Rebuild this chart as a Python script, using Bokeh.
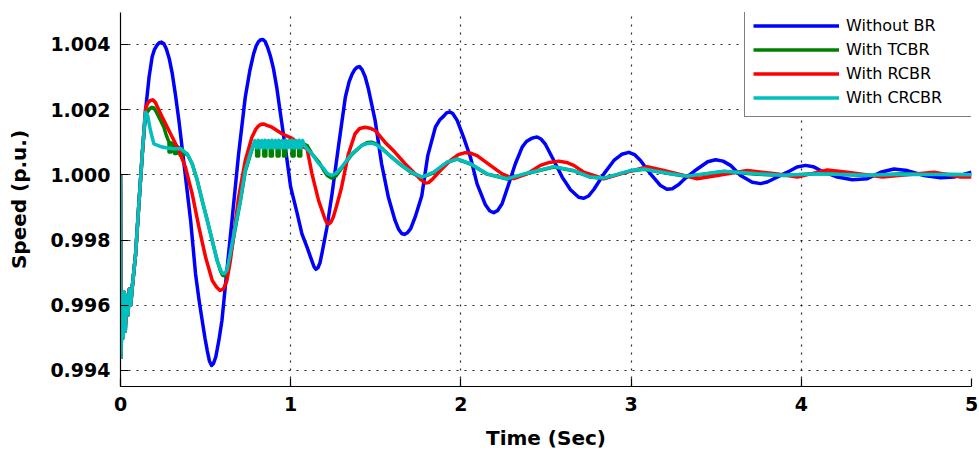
from bokeh.plotting import figure
from bokeh.models import Range1d, FixedTicker, PrintfTickFormatter
from bokeh.embed import file_html
from bokeh.resources import INLINE

# ---------------- data ----------------
x_ticks = [0, 1, 2, 3, 4, 5]
y_ticks = [0.994, 0.996, 0.998, 1.000, 1.002, 1.004]

# shared initial transient (all four cases)
t_start = [0.000, 0.003, 0.010, 0.016, 0.022, 0.028, 0.036, 0.044, 0.052, 0.060,
           0.069, 0.089, 0.108, 0.128]
v_start = [1.0000, 0.9944, 0.9962, 0.9950, 0.9964, 0.9952, 0.9963, 0.9957, 0.9965, 0.9960,
           0.99655, 0.99758, 0.99911, 1.00064]

t_without = [0.149, 0.168, 0.186, 0.200, 0.215, 0.228, 0.241, 0.255, 0.270, 0.287,
             0.304, 0.323, 0.343, 0.373, 0.412, 0.441, 0.462, 0.480, 0.497, 0.510,
             0.523, 0.535, 0.547, 0.560, 0.578, 0.596, 0.625, 0.655, 0.694, 0.733,
             0.760, 0.782, 0.797, 0.810, 0.823, 0.837, 0.851, 0.865, 0.882, 0.899,
             0.919, 0.939, 0.968, 1.000, 1.037, 1.066, 1.096, 1.125, 1.137, 1.148,
             1.160, 1.172, 1.184, 1.213, 1.243, 1.282, 1.321, 1.343, 1.360, 1.375,
             1.390, 1.405, 1.420, 1.438, 1.456, 1.496, 1.534, 1.574, 1.613, 1.635,
             1.652, 1.668, 1.685, 1.705, 1.731, 1.770, 1.805, 1.850, 1.875, 1.899,
             1.916, 1.934, 1.952, 1.978, 2.016, 2.056, 2.095, 2.144, 2.170, 2.193,
             2.215, 2.242, 2.281, 2.320, 2.360, 2.385, 2.409, 2.428, 2.448, 2.470,
             2.497, 2.546, 2.595, 2.644, 2.692, 2.722, 2.750, 2.781, 2.840, 2.899,
             2.945, 2.987, 3.020, 3.055, 3.114, 3.173, 3.210, 3.242, 3.280, 3.320,
             3.389, 3.450, 3.496, 3.540, 3.584, 3.643, 3.712, 3.761, 3.800, 3.839,
             3.918, 3.975, 4.025, 4.070, 4.113, 4.212, 4.300, 4.388, 4.466, 4.544,
             4.623, 4.721, 4.819, 4.897, 5.000]
v_without = [1.00207, 1.00300, 1.00362, 1.00385, 1.00398, 1.00405, 1.00407, 1.00402, 1.00385, 1.00355,
             1.00311, 1.00245, 1.00167, 1.00034, 0.99860, 0.99696, 0.99614, 0.99553, 0.99497, 0.99460,
             0.99428, 0.99415, 0.99422, 0.99442, 0.99492, 0.99553, 0.99706, 0.99860, 1.00064, 1.00238,
             1.00320, 1.00371, 1.00395, 1.00408, 1.00414, 1.00415, 1.00408, 1.00390, 1.00362, 1.00325,
             1.00265, 1.00190, 1.00085, 0.99962, 0.99884, 0.99819, 0.99778, 0.99735, 0.99718, 0.99710,
             0.99715, 0.99730, 0.99760, 0.99839, 0.99942, 1.00092, 1.00238, 1.00285, 1.00308, 1.00322,
             1.00330, 1.00332, 1.00322, 1.00300, 1.00265, 1.00167, 1.00034, 0.99931, 0.99860, 0.99832,
             0.99820, 0.99817, 0.99822, 0.99835, 0.99870, 0.99935, 1.00058, 1.00146, 1.00168, 1.00180,
             1.00190, 1.00193, 1.00188, 1.00167, 1.00115, 1.00054, 0.99972, 0.99908, 0.99889, 0.99884,
             0.99890, 0.99911, 0.99972, 1.00034, 1.00085, 1.00102, 1.00110, 1.00114, 1.00116, 1.00110,
             1.00093, 1.00044, 0.99993, 0.99954, 0.99931, 0.99928, 0.99935, 0.99955, 1.00003, 1.00044,
             1.00063, 1.00069, 1.00062, 1.00044, 1.00003, 0.99967, 0.99956, 0.99957, 0.99970, 0.99990,
             1.00018, 1.00040, 1.00046, 1.00042, 1.00029, 0.99998, 0.99977, 0.99973, 0.99978, 0.99988,
             1.00008, 1.00024, 1.00029, 1.00025, 1.00013, 0.99993, 0.99985, 0.99988, 1.00008, 1.00018,
             1.00013, 0.99998, 0.99991, 0.99993, 1.00008]

t_tcbr = [0.147, 0.157, 0.172, 0.185, 0.196, 0.211, 0.226, 0.255, 0.270, 0.285,
          0.285, 0.298, 0.298, 0.318, 0.318, 0.330, 0.330, 0.350, 0.350, 0.362,
          0.362, 0.373, 0.392, 0.421, 0.451, 0.480, 0.510, 0.539, 0.568, 0.588,
          0.600, 0.612, 0.625, 0.645, 0.674, 0.704, 0.733, 0.762, 0.780, 0.800,
          0.800, 0.812, 0.812, 0.842, 0.842, 0.854, 0.854, 0.880, 0.880, 0.892,
          0.892, 0.920, 0.920, 0.932, 0.932, 0.958, 0.958, 0.970, 0.970, 1.008,
          1.008, 1.020, 1.020, 1.047, 1.047, 1.059, 1.059, 1.096, 1.125, 1.164,
          1.193, 1.215, 1.240, 1.265, 1.299, 1.358, 1.417, 1.450, 1.476, 1.505,
          1.534, 1.593, 1.652, 1.711, 1.770, 1.840, 1.919, 1.978, 2.056, 2.154,
          2.271, 2.389, 2.546, 2.663, 2.761, 2.840, 2.996, 3.075, 3.232, 3.330,
          3.545, 3.741, 3.900, 4.100, 4.400, 4.600, 5.000]
v_tcbr = [1.00187, 1.00192, 1.00203, 1.00207, 1.00205, 1.00192, 1.00177, 1.00146, 1.00120, 1.00100,
          1.00070, 1.00070, 1.00098, 1.00090, 1.00065, 1.00065, 1.00088, 1.00080, 1.00060, 1.00060,
          1.00080, 1.00064, 1.00064, 1.00034, 0.99983, 0.99921, 0.99860, 0.99798, 0.99737, 0.99705,
          0.99692, 0.99690, 0.99700, 0.99750, 0.99835, 0.99918, 1.00010, 1.00060, 1.00090, 1.00100,
          1.00058, 1.00058, 1.00100, 1.00100, 1.00058, 1.00058, 1.00100, 1.00100, 1.00058, 1.00058,
          1.00100, 1.00100, 1.00058, 1.00058, 1.00100, 1.00100, 1.00058, 1.00058, 1.00100, 1.00100,
          1.00058, 1.00058, 1.00100, 1.00100, 1.00058, 1.00058, 1.00100, 1.00090, 1.00064, 1.00040,
          1.00015, 0.99998, 0.99990, 0.99996, 1.00020, 1.00062, 1.00090, 1.00099, 1.00100, 1.00094,
          1.00082, 1.00054, 1.00028, 1.00006, 0.99992, 1.00006, 1.00038, 1.00048, 1.00033, 1.00002,
          0.99987, 1.00004, 1.00024, 1.00012, 0.99993, 0.99989, 1.00012, 1.00017, 1.00003, 0.99995,
          1.00010, 1.00002, 0.99998, 1.00004, 0.99998, 1.00003, 1.00000]

t_rcbr = [0.147, 0.160, 0.175, 0.190, 0.205, 0.220, 0.245, 0.294, 0.343, 0.382,
          0.421, 0.461, 0.500, 0.539, 0.565, 0.585, 0.605, 0.625, 0.645, 0.664,
          0.694, 0.733, 0.772, 0.795, 0.811, 0.826, 0.841, 0.860, 0.890, 0.949,
          1.008, 1.066, 1.096, 1.125, 1.164, 1.203, 1.213, 1.223, 1.235, 1.250,
          1.270, 1.299, 1.339, 1.378, 1.405, 1.437, 1.466, 1.496, 1.554, 1.613,
          1.672, 1.731, 1.765, 1.790, 1.810, 1.830, 1.879, 1.938, 1.985, 2.026,
          2.060, 2.095, 2.173, 2.242, 2.310, 2.389, 2.467, 2.520, 2.575, 2.620,
          2.663, 2.722, 2.840, 2.938, 3.095, 3.192, 3.389, 3.506, 3.683, 3.850,
          3.977, 4.153, 4.271, 4.477, 4.780, 4.936, 5.000]
v_rcbr = [1.00202, 1.00220, 1.00228, 1.00230, 1.00222, 1.00205, 1.00177, 1.00126, 1.00075, 1.00023,
          0.99942, 0.99839, 0.99747, 0.99676, 0.99655, 0.99645, 0.99650, 0.99675, 0.99735, 0.99809,
          0.99931, 1.00044, 1.00115, 1.00140, 1.00150, 1.00155, 1.00156, 1.00152, 1.00146, 1.00126,
          1.00112, 1.00088, 1.00080, 1.00003, 0.99921, 0.99862, 0.99852, 0.99849, 0.99854, 0.99870,
          0.99905, 0.99962, 1.00064, 1.00126, 1.00142, 1.00146, 1.00143, 1.00136, 1.00100, 1.00069,
          1.00034, 1.00003, 0.99985, 0.99975, 0.99976, 0.99985, 1.00013, 1.00044, 1.00062, 1.00068,
          1.00066, 1.00059, 1.00029, 1.00003, 0.99988, 1.00003, 1.00029, 1.00038, 1.00042, 1.00038,
          1.00029, 1.00008, 0.99988, 1.00003, 1.00025, 1.00013, 0.99988, 0.99998, 1.00013, 1.00003,
          0.99993, 1.00015, 1.00008, 0.99993, 1.00008, 0.99993, 0.99993]

t_crcbr = [0.140, 0.147, 0.160, 0.176, 0.196, 0.245, 0.304, 0.353, 0.392, 0.421,
           0.451, 0.480, 0.510, 0.539, 0.568, 0.588, 0.600, 0.612, 0.625, 0.645,
           0.674, 0.704, 0.733, 0.762, 0.780, 0.790, 0.800, 0.810, 0.820, 0.830,
           0.840, 0.850, 0.860, 0.870, 0.880, 0.890, 0.900, 0.910, 0.920, 0.930,
           0.940, 0.950, 0.960, 0.970, 0.980, 0.990, 1.000, 1.010, 1.020, 1.030,
           1.040, 1.050, 1.060, 1.070, 1.080, 1.096, 1.125, 1.162, 1.193, 1.215,
           1.240, 1.265, 1.299, 1.358, 1.417, 1.450, 1.476, 1.505, 1.534, 1.593,
           1.652, 1.711, 1.770, 1.840, 1.919, 1.978, 2.056, 2.154, 2.271, 2.389,
           2.546, 2.663, 2.761, 2.840, 2.996, 3.075, 3.232, 3.330, 3.545, 3.741,
           3.900, 4.100, 4.400, 4.600, 5.000]
v_crcbr = [1.00150, 1.00192, 1.00180, 1.00136, 1.00095, 1.00085, 1.00080, 1.00080, 1.00064, 1.00034,
           0.99983, 0.99921, 0.99860, 0.99798, 0.99737, 0.99708, 0.99698, 0.99697, 0.99707, 0.99758,
           0.99839, 0.99921, 1.00013, 1.00064, 1.00090, 1.00105, 1.00083, 1.00106, 1.00082, 1.00105,
           1.00083, 1.00106, 1.00082, 1.00105, 1.00083, 1.00106, 1.00082, 1.00105, 1.00083, 1.00106,
           1.00082, 1.00105, 1.00083, 1.00106, 1.00082, 1.00105, 1.00083, 1.00106, 1.00082, 1.00105,
           1.00083, 1.00106, 1.00082, 1.00105, 1.00090, 1.00080, 1.00064, 1.00036, 1.00020, 1.00004,
           0.99998, 1.00004, 1.00023, 1.00064, 1.00090, 1.00096, 1.00097, 1.00092, 1.00080, 1.00054,
           1.00029, 1.00008, 0.99993, 1.00008, 1.00039, 1.00049, 1.00034, 1.00003, 0.99988, 1.00005,
           1.00025, 1.00013, 0.99993, 0.99990, 1.00013, 1.00018, 1.00003, 0.99996, 1.00011, 1.00003,
           0.99999, 1.00003, 0.99999, 1.00002, 1.00000]

series = [
    ("Without BR", t_without, v_without, "#0000FF"),
    ("With TCBR", t_tcbr, v_tcbr, "#008000"),
    ("With RCBR", t_rcbr, v_rcbr, "#FF0000"),
    ("With CRCBR", t_crcbr, v_crcbr, "#00BFBF"),
]

# ---------------- figure ----------------
p = figure(width=979, height=455, output_backend="svg", toolbar_location=None,
           x_range=Range1d(0, 5), y_range=Range1d(0.993506, 1.004979),
           min_border_left=120, min_border_right=8, min_border_top=12, min_border_bottom=69)
p.outline_line_color = None
p.background_fill_color = "white"
p.border_fill_color = "white"

for name, ts, vs, col in series:
    p.line(t_start + ts, v_start + vs, line_color=col, line_width=3.5,
           line_join="round", legend_label=name)

p.xaxis.ticker = FixedTicker(ticks=x_ticks)
p.yaxis.ticker = FixedTicker(ticks=y_ticks)
p.yaxis.formatter = PrintfTickFormatter(format="%.3f")
p.xgrid.ticker = FixedTicker(ticks=x_ticks)
p.ygrid.ticker = FixedTicker(ticks=y_ticks)
p.grid.grid_line_color = "#000000"
p.grid.grid_line_alpha = 0.85
p.grid.grid_line_dash = "2 6"
p.grid.grid_line_width = 1.2

for ax in (p.xaxis[0], p.yaxis[0]):
    ax.axis_line_color = "black"
    ax.axis_line_width = 1.2
    ax.major_tick_in = 8
    ax.major_tick_out = 0
    ax.minor_tick_line_color = None
    ax.major_tick_line_color = "black"
    ax.major_tick_line_width = 1.2
    ax.major_label_text_font = "DejaVu Sans"
    ax.major_label_text_font_style = "bold"
    ax.major_label_text_font_size = "19px"
    ax.major_label_text_color = "black"
    ax.major_label_standoff = 10
    ax.axis_label_text_font = "DejaVu Sans"
    ax.axis_label_text_font_style = "bold"
    ax.axis_label_text_font_size = "20px"
    ax.axis_label_text_color = "black"

p.xaxis.axis_label = "Time (Sec)"
p.yaxis.axis_label = "Speed (p.u.)"
p.xaxis.axis_label_standoff = 12
p.yaxis.axis_label_standoff = 16

lg = p.legend[0]
lg.location = (624, 269)
lg.padding = 8
lg.spacing = 3
lg.glyph_height = 21
lg.label_height = 21
lg.glyph_width = 86
lg.label_standoff = 7
lg.label_width = 118
lg.label_text_font = "DejaVu Sans"
lg.label_text_font_size = "16px"
lg.label_text_color = "black"
lg.border_line_color = "black"
lg.border_line_width = 1
lg.background_fill_color = "white"
lg.background_fill_alpha = 1.0
lg.margin = 0

open("out.html", "w").write(file_html(p, INLINE))
